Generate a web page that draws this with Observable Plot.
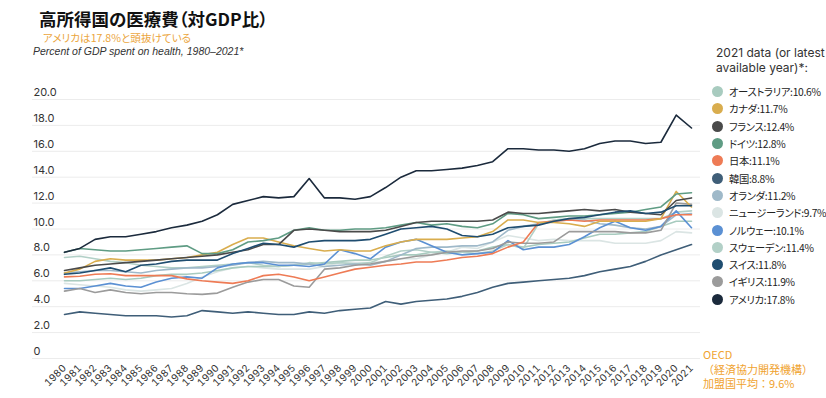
<!DOCTYPE html>
<html><head><meta charset="utf-8">
<script src="https://cdn.jsdelivr.net/npm/d3@7"></script>
<script src="https://cdn.jsdelivr.net/npm/@observablehq/plot@0.6"></script>
<style>
body{margin:0;width:826px;height:398px;overflow:hidden;position:relative;background:#fff;font-family:"Noto Sans CJK JP","Noto Sans",sans-serif;}
#chart{position:absolute;left:0;top:0;}
.title{position:absolute;left:39px;top:6px;font-size:17.5px;font-weight:700;color:#111;white-space:nowrap;font-feature-settings:"palt";}
.sub{position:absolute;left:43px;top:30px;font-size:10.6px;color:#eba53c;white-space:nowrap;font-feature-settings:"palt";}
.cap{position:absolute;left:33px;top:45px;font-size:10.5px;font-style:italic;color:#333;font-family:"Liberation Sans",Arial,sans-serif;white-space:nowrap;}
.lhead{position:absolute;left:716px;top:45px;font-size:12px;line-height:15px;color:#333;font-family:"Inter","Noto Sans",sans-serif;white-space:nowrap;}
.legend{position:absolute;left:712px;top:83px;}
.item{height:17.3px;display:flex;align-items:center;font-size:10.3px;color:#222;white-space:nowrap;font-feature-settings:"palt";letter-spacing:-0.3px;}
.dot{width:11px;height:11px;border-radius:50%;margin-right:6px;flex:none;}
.oecd{position:absolute;left:703px;top:347px;font-size:11px;line-height:14.5px;color:#f0a32f;white-space:nowrap;}
</style></head><body>
<div class="title">高所得国の医療費（対GDP比）</div>
<div class="sub">アメリカは17.8%と頭抜けている</div>
<div class="cap">Percent of GDP spent on health, 1980–2021*</div>
<div class="lhead">2021 data (or latest<br>available year)*:</div>
<div class="legend" id="legend"></div>
<div class="oecd">OECD<br>（経済協力開発機構）<br>加盟国平均：9.6%</div>
<div id="chart"></div>
<script>
const years = [1980,1981,1982,1983,1984,1985,1986,1987,1988,1989,1990,1991,1992,1993,1994,1995,1996,1997,1998,1999,2000,2001,2002,2003,2004,2005,2006,2007,2008,2009,2010,2011,2012,2013,2014,2015,2016,2017,2018,2019,2020,2021];
const yTicks = [0,2,4,6,8,10,12,14,16,18,20];

const countries = ["オーストラリア","カナダ","フランス","ドイツ","日本","韓国","オランダ","ニュージーランド","ノルウェー","スウェーデン","スイス","イギリス","アメリカ"];
const colors = ["#a8cbbf","#d9ad4e","#4a4a4a","#5f9c84","#ee7b55","#3f5e78","#9fb9c9","#dbe5e4","#5b90d3","#b2d0c7","#1f4d70","#9b9b9b","#1b2a3c"];
const latest = ["10.6","11.7","12.4","12.8","11.1","8.8","11.2","9.7","10.1","11.4","11.8","11.9","17.8"];

const australia = [6.0,6.0,6.1,6.2,6.1,6.2,6.4,6.5,6.5,6.6, 6.8,7.0,7.1,7.1,7.1,7.2,7.3,7.4,7.5,7.6, 7.6,7.8,8.0,8.0,8.2,8.1,8.2,8.3,8.6,8.8, 8.6,8.8,8.9,9.0,9.3,9.6,9.6,9.7,9.8,10.2, 10.6,10.6];
const canada    = [6.6,6.9,7.5,7.7,7.6,7.6,7.6,7.7,7.8,8.0, 8.2,8.8,9.3,9.3,9.0,8.7,8.5,8.3,8.4,8.3, 8.3,8.7,9.0,9.2,9.2,9.2,9.3,9.4,9.8,10.7, 10.7,10.5,10.5,10.4,10.2,10.6,10.6,10.6,10.6,10.8, 12.9,11.7];
const france    = [6.8,7.0,7.2,7.3,7.4,7.5,7.6,7.7,7.8,7.9, 8.0,8.2,8.4,8.8,8.8,9.9,10.0,9.9,9.8,9.8, 9.8,9.9,10.2,10.5,10.6,10.6,10.6,10.6,10.7,11.3, 11.2,11.2,11.3,11.4,11.5,11.4,11.5,11.3,11.2,11.1, 12.2,12.4];
const germany   = [8.2,8.5,8.4,8.3,8.3,8.4,8.5,8.6,8.7,8.1, 8.1,8.4,9.0,9.1,9.3,9.9,10.1,9.9,9.9,10.0, 10.0,10.1,10.3,10.5,10.3,10.4,10.2,10.1,10.4,11.2, 11.1,10.8,10.9,11.0,11.0,11.1,11.2,11.3,11.5,11.7, 12.7,12.8];
const japan     = [6.3,6.35,6.5,6.55,6.4,6.4,6.4,6.4,6.15,6.0, 5.9,5.8,6.0,6.4,6.5,6.3,6.0,6.3,6.6,6.9, 7.05,7.2,7.3,7.45,7.45,7.6,7.8,7.9,8.1,8.6, 9.0,10.5,10.6,10.7,10.6,10.7,10.7,10.7,10.7,10.8, 11.1,11.1];
const korea     = [3.4,3.6,3.5,3.4,3.3,3.3,3.3,3.2,3.3,3.7, 3.6,3.5,3.6,3.5,3.4,3.4,3.6,3.5,3.7,3.8, 3.9,4.4,4.2,4.4,4.5,4.6,4.8,5.1,5.5,5.8, 5.9,6.0,6.1,6.2,6.4,6.7,6.9,7.1,7.5,8.0, 8.4,8.8];
const netherlands=[6.6,6.7,6.8,6.8,6.7,6.6,6.8,6.9,7.0,7.0, 7.1,7.2,7.4,7.5,7.4,7.4,7.3,7.1,7.2,7.3, 7.2,7.5,8.0,8.5,8.6,8.6,8.7,8.7,9.0,9.9, 10.2,10.4,10.6,10.7,10.7,10.4,10.3,10.1,10.0,10.2, 11.1,11.2];
const newzealand= [5.8,5.7,5.6,5.5,5.3,5.2,5.3,5.4,5.8,6.3, 6.7,7.0,7.1,7.0,6.9,6.9,6.9,7.1,7.4,7.4, 7.4,7.5,7.7,7.7,8.0,8.2,8.6,8.5,9.0,9.5, 9.3,9.1,9.2,9.1,9.1,9.1,8.9,8.9,8.9,9.1, 9.8,9.7];
const norway    = [5.4,5.4,5.6,5.8,5.6,5.5,5.9,6.2,6.3,6.2, 7.0,7.3,7.4,7.4,7.2,7.2,7.1,7.3,8.4,8.1, 7.7,8.6,9.0,9.2,8.7,8.2,8.0,8.1,8.2,9.1, 8.4,8.6,8.6,8.8,9.4,10.1,10.6,10.1,9.9,10.2, 11.4,10.1];
const sweden    = [7.8,7.9,7.7,7.5,7.4,7.2,7.1,7.0,7.0,7.1, 7.2,7.3,7.4,7.2,7.1,7.2,7.4,7.3,7.4,7.3, 7.4,7.9,8.3,8.4,8.2,8.3,8.2,8.1,8.3,8.8, 8.5,10.4,10.7,10.8,10.8,10.8,10.8,10.8,10.8,10.8, 11.3,11.4];
const switzerland=[6.5,6.6,6.8,7.0,6.7,7.2,7.3,7.5,7.6,7.6, 7.6,8.1,8.5,8.9,8.8,8.6,9.0,9.1,9.1,9.1, 9.2,9.6,10.0,10.1,10.2,10.0,9.5,9.4,9.6,10.1, 10.2,10.3,10.6,10.8,10.9,11.1,11.3,11.4,11.2,11.3, 11.8,11.8];
const uk        = [5.2,5.4,5.1,5.3,5.1,5.0,5.1,5.1,5.0,4.95, 5.05,5.5,5.9,6.1,6.1,5.6,5.5,6.9,7.0,7.2, 7.3,7.5,7.7,7.9,8.0,8.2,8.3,8.3,8.5,9.0, 8.9,8.9,9.0,9.8,9.8,9.8,9.8,9.7,9.7,9.9, 12.0,11.9];
const us        = [8.2,8.5,9.2,9.4,9.4,9.6,9.8,10.1,10.3,10.6, 11.1,11.9,12.2,12.5,12.4,12.5,13.9,12.4,12.4,12.3, 12.5,13.2,14.0,14.5,14.5,14.6,14.7,14.9,15.2,16.2, 16.2,16.1,16.1,16.0,16.2,16.6,16.8,16.8,16.6,16.7, 18.8,17.8];

const series = [australia,canada,france,germany,japan,korea,netherlands,newzealand,norway,sweden,switzerland,uk,us];
// drawing order: lighter lines first, US on top
const drawOrder = [7,0,9,6,8,11,4,1,5,3,2,10,12];
const rows = [];
for (const i of drawOrder) series[i].forEach((v,j)=>rows.push({country:countries[i], year:years[j], value:v}));

const chart = Plot.plot({
  width: 705, height: 398,
  marginLeft: 64, marginRight: 14, marginTop: 99, marginBottom: 40,
  x: {domain:[1980,2021], label:null},
  y: {domain:[0,20], axis:null},
  color: {domain: countries, range: colors},
  style: {fontFamily:"Inter, 'Noto Sans', sans-serif", fontSize:"10px", color:"#333", background:"transparent"},
  marks: [
    Plot.ruleY(yTicks, {stroke:"#ececec", strokeWidth:1, insetLeft:-32, insetRight:-9}),
    Plot.text(yTicks, {y:d=>d, text:d=> d===0 ? "0" : d.toFixed(1), frameAnchor:"left", textAnchor:"start", dx:-31, dy:-7, fontSize:11, fill:"#333"}),
    Plot.axisX({ticks: years, tickRotate:-45, tickSize:0, tickPadding:8, tickFormat:d=>String(d), fontSize:10, fill:"#333"}),
    Plot.line(rows, {x:"year", y:"value", z:"country", stroke:"country", strokeWidth:1.6, curve:"linear"})
  ]
});
document.getElementById("chart").appendChild(chart);

const lg = document.getElementById("legend");
countries.forEach((c,i)=>{
  const d = document.createElement("div"); d.className="item";
  d.innerHTML = `<span class="dot" style="background:${colors[i]}"></span><span>${c}:${latest[i]}%</span>`;
  lg.appendChild(d);
});
</script>
</body></html>
